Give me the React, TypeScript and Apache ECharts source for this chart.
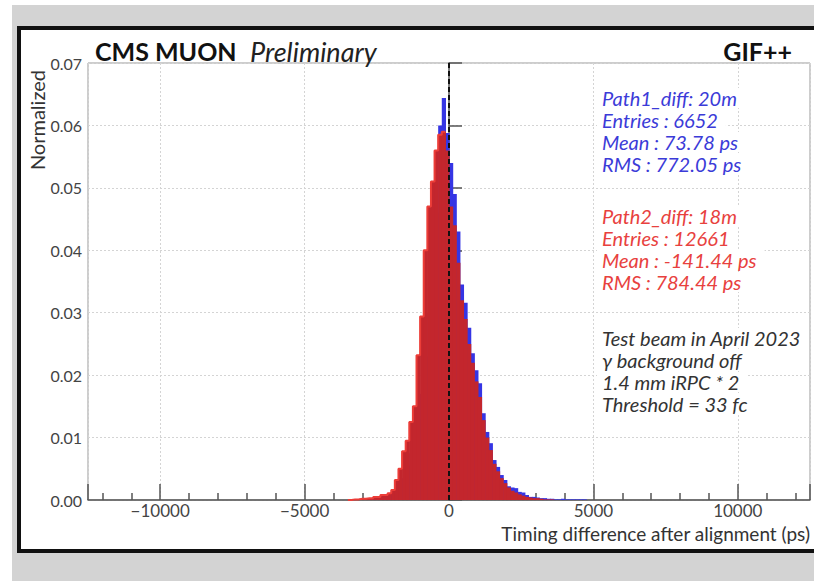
import React, { useEffect, useRef } from "react";
import * as echarts from "echarts";

// Histogram binning (ps)
const BIN_START = -3500;
const BIN_WIDTH = 125;

// Normalized bin contents, bins starting at BIN_START, step BIN_WIDTH
const path1Values = [
  0, 0, 0, 0.0001, 0.0001, 0.0002, 0.0002, 0.0003, 0.0004, 0.0005,
  0.0006, 0.0007, 0.001, 0.0014, 0.0022, 0.0035, 0.0055, 0.0075, 0.0095, 0.013,
  0.017, 0.023, 0.03, 0.038, 0.046, 0.06, 0.0644, 0.0588, 0.054, 0.049,
  0.043, 0.0345, 0.0316, 0.0276, 0.0235, 0.0208, 0.0187, 0.0139, 0.0109, 0.0091,
  0.0064, 0.0053, 0.004, 0.0032, 0.0022, 0.002, 0.0019, 0.0013, 0.0012, 0.0008,
  0.0005, 0.0005, 0.0004, 0.0003, 0.0003, 0.0002, 0.0002, 0.0001, 0.0001, 0.0002,
  0.0001, 0.0001, 0.0001, 0.0001, 0.0001, 0.0001, 0, 0,
];
const path2Values = [
  0, 0.0001, 0.0001, 0.0002, 0.0002, 0.0003, 0.0003, 0.0005, 0.0005, 0.0008,
  0.0008, 0.0011, 0.0016, 0.0032, 0.005, 0.0078, 0.0095, 0.0125, 0.015, 0.0232,
  0.0294, 0.04, 0.047, 0.051, 0.056, 0.0585, 0.059, 0.056, 0.047, 0.044,
  0.038, 0.032, 0.029, 0.025, 0.022, 0.019, 0.0165, 0.0128, 0.01, 0.008,
  0.0058, 0.0046, 0.0035, 0.0027, 0.002, 0.0015, 0.0012, 0.0009, 0.0007, 0.0005,
  0.0004, 0.0003, 0.0003, 0.0002, 0.0001, 0.0001, 0.0001, 0, 0, 0,
  0, 0, 0, 0, 0, 0, 0, 0,
];

const X_MIN = -12500;
const X_MAX = 12500;
const Y_MAX = 0.07;
const Y_STEP = 0.01;

const legendPath1 = ["Path1_diff: 20m", "Entries : 6652", "Mean : 73.78 ps", "RMS : 772.05 ps"];
const legendPath2 = ["Path2_diff: 18m", "Entries : 12661", "Mean : -141.44 ps", "RMS : 784.44 ps"];
const notes = ["Test beam in April 2023", "γ background off", "1.4 mm iRPC * 2", "Threshold = 33 fc"];

const FONT = "Lato, 'Open Sans', sans-serif";
const BLUE = "#3535e4";
const RED_DARK = "#c3262d";
const RED_LIGHT = "#ec3d38";

function toBins(values: number[]) {
  return values.map((v, i) => [BIN_START + i * BIN_WIDTH, v]);
}

function histSeries(name: string, values: number[], color: string) {
  return {
    name,
    type: "custom",
    data: toBins(values),
    encode: { x: 0, y: 1 },
    clip: true,
    renderItem: (params: any, api: any) => {
      const x0 = api.value(0);
      const v = api.value(1);
      if (!v) return null;
      const p0 = api.coord([x0, v]);
      const p1 = api.coord([x0 + BIN_WIDTH, 0]);
      return {
        type: "rect",
        shape: { x: p0[0], y: p0[1], width: p1[0] - p0[0] + 0.6, height: p1[1] - p0[1] },
        style: { fill: color },
      };
    },
  };
}

export default function App() {
  const ref = useRef<HTMLDivElement>(null);

  useEffect(() => {
    if (!ref.current) return;
    const chart = echarts.init(ref.current, null, { renderer: "svg" });

    // rising outline of Path2 up to its peak
    let peak = 0;
    path2Values.forEach((v, i) => {
      if (v > path2Values[peak]) peak = i;
    });
    const outline: number[][] = [];
    for (let i = 0; i <= peak; i++) outline.push([BIN_START + i * BIN_WIDTH, path2Values[i]]);
    outline.push([BIN_START + (peak + 1) * BIN_WIDTH, path2Values[peak]]);

    const legendText = (lines: string[], y0: number, color: string) =>
      lines.map((t, i) => ({
        type: "text",
        z: 20,
        style: {
          text: t,
          x: 597,
          y: y0 + i * 22,
          fill: color,
          font: `italic 20px ${FONT}`,
          textAlign: "left",
          textVerticalAlign: "middle",
          backgroundColor: "#ffffff",
          padding: [0, 8, 0, 5],
        },
      }));

    const option: any = {
      animation: false,
      grid: {
        left: 88,
        right: 4,
        top: 63,
        bottom: 81,
        show: true,
        borderColor: "#9a9a9a",
        borderWidth: 1,
        backgroundColor: "transparent",
      },
      xAxis: {
        type: "value",
        min: X_MIN,
        max: X_MAX,
        axisLine: { show: true, onZero: false, lineStyle: { color: "#555", width: 1.5 } },
        axisTick: { show: true, inside: true, length: 16, lineStyle: { color: "#555", width: 1.5 } },
        minorTick: { show: true, splitNumber: 5, length: 7, lineStyle: { color: "#555", width: 1.5 } },
        axisLabel: {
          showMinLabel: false,
          showMaxLabel: false,
          margin: 2,
          color: "#444",
          fontSize: 17,
          fontFamily: FONT,
          formatter: (v: number) => (v < 0 ? "−" + Math.abs(v) : String(v)),
        },
        splitLine: { show: true, lineStyle: { color: "#d4d4d4", type: [2, 2], width: 1 } },
      },
      yAxis: {
        type: "value",
        min: 0,
        max: Y_MAX,
        interval: Y_STEP,
        axisLine: { show: true, lineStyle: { color: "#555", width: 1.5 } },
        axisTick: { show: true, inside: true, length: 13, lineStyle: { color: "#555", width: 1.5 } },
        axisLabel: {
          margin: 6,
          color: "#444",
          fontSize: 16,
          fontFamily: FONT,
          formatter: (v: number) => v.toFixed(2),
        },
        splitLine: { show: true, lineStyle: { color: "#d4d4d4", type: [2, 2], width: 1 } },
      },
      series: [
        histSeries("Path1_diff", path1Values, BLUE),
        histSeries("Path2_diff", path2Values, RED_DARK),
        {
          name: "Path2 outline",
          type: "line",
          step: "end",
          data: outline,
          symbol: "none",
          lineStyle: { color: RED_LIGHT, width: 2 },
          z: 3,
          markLine: {
            silent: true,
            symbol: ["none", "none"],
            label: { show: false },
            lineStyle: { color: "#111", type: [5, 3], width: 2 },
            data: [{ xAxis: 0 }],
          },
        },
      ],
      graphic: [
        {
          type: "text",
          z: 20,
          style: { text: "CMS MUON", x: 95, y: 51, font: `bold 25px ${FONT}`, fill: "#111", textVerticalAlign: "middle" },
        },
        {
          type: "text",
          z: 20,
          style: { text: "Preliminary", x: 250, y: 51, font: `italic 27px ${FONT}`, fill: "#222", textVerticalAlign: "middle" },
        },
        {
          type: "text",
          z: 20,
          style: { text: "GIF++", x: 792, y: 51, font: `bold 25px ${FONT}`, fill: "#111", textAlign: "right", textVerticalAlign: "middle" },
        },
        {
          type: "text",
          z: 20,
          x: 37,
          y: 70,
          rotation: Math.PI / 2,
          style: { text: "Normalized", font: `20px ${FONT}`, fill: "#333", textAlign: "right", textVerticalAlign: "middle" },
        },
        {
          type: "text",
          z: 20,
          style: {
            text: "Timing difference after alignment (ps)",
            x: 810,
            y: 533,
            font: `19px ${FONT}`,
            fill: "#333",
            textAlign: "right",
            textVerticalAlign: "middle",
          },
        },
        ...legendText(legendPath1, 98, "#3b3bd8"),
        ...legendText(legendPath2, 216, "#e8413e"),
        ...legendText(notes, 338, "#333"),
      ],
    };

    chart.setOption(option);
    return () => chart.dispose();
  }, []);

  return (
    <div style={{ position: "fixed", left: 0, top: 0, width: 814, height: 581, background: "#fff", overflow: "hidden" }}>
      <div style={{ position: "absolute", left: 12, top: 5, width: 802, height: 576, background: "#d3d3d3" }} />
      <div
        style={{
          position: "absolute",
          left: 17,
          top: 26,
          width: 820,
          height: 519,
          background: "#fff",
          border: "4px solid #111",
        }}
      />
      <div ref={ref} style={{ position: "absolute", left: 0, top: 0, width: 814, height: 581 }} />
    </div>
  );
}
